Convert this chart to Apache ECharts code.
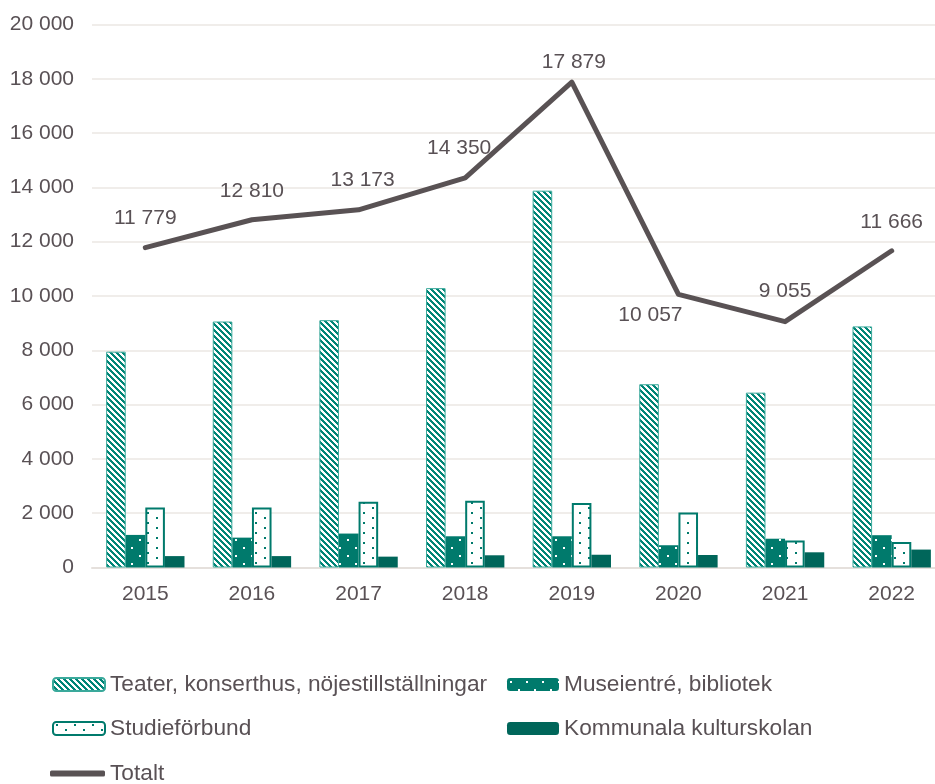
<!DOCTYPE html>
<html lang="sv">
<head>
    <meta charset="utf-8">
    <title>Kultur</title>
    <style>
        html, body { margin: 0; padding: 0; background: #fff; overflow: hidden; }
        #chart { width: 945px; height: 784px; }
    </style>
</head>
<body>
<div id="chart"></div>
<script src="https://cdn.jsdelivr.net/npm/echarts@6.0.0/dist/echarts.min.js"></script>
<script type="text/javascript">

// data
var years = ['2015', '2016', '2017', '2018', '2019', '2020', '2021', '2022'];
var teater = [7950, 9060, 9110, 10290, 13880, 6750, 6440, 8880];
var museum = [1200, 1100, 1250, 1150, 1150, 820, 1060, 1190];
var studie = [2210, 2210, 2420, 2460, 2380, 2030, 990, 940];
var kultur = [420, 420, 400, 450, 470, 460, 560, 660];
var totalt = [11779, 12810, 13173, 14350, 17879, 10057, 9055, 11666];
var yTicks = [0, 2000, 4000, 6000, 8000, 10000, 12000, 14000, 16000, 18000, 20000];

var names = ['Teater, konserthus, nöjestillställningar', 'Museientré, bibliotek',
    'Studieförbund', 'Kommunala kulturskolan', 'Totalt'];

var textColor = '#595155';
var teal = '#007a6c';
var tealDark = '#00665a';
var font = 'Liberation Sans, Arial, sans-serif';

// label offsets for the Totalt line
var labelOffsets = [[0, -13], [0, -13], [4, -14], [-6, -14], [2, -4], [-28, 37], [0, -14], [0, -13]];

function fmt(v) {
    return String(v).replace(/\B(?=(\d{3})+(?!\d))/g, ' ');
}

function tile(w, h, bg, fg, test) {
    var c = document.createElement('canvas');
    c.width = w; c.height = h;
    var ctx = c.getContext('2d');
    ctx.fillStyle = bg;
    ctx.fillRect(0, 0, w, h);
    ctx.fillStyle = fg;
    for (var y = 0; y < h; y++) {
        for (var x = 0; x < w; x++) {
            if (test(x, y)) ctx.fillRect(x, y, 1, 1);
        }
    }
    return { image: c, repeat: 'repeat' };
}

// diagonal stripes
var hatchFill = tile(6, 6, '#008577', '#ffffff', function (x, y) { return ((x - y + 12) % 6) < 3; });
// white dots on teal
var museumFill = tile(16, 16, teal, '#ffffff', function (x, y) {
    return (x >= 3 && x < 5 && y >= 3 && y < 5) || (x >= 11 && x < 13 && y >= 11 && y < 13);
});
// teal dots on white
var studieFill = tile(18, 10, '#ffffff', teal, function (x, y) {
    return (x >= 3 && x < 5 && y >= 2 && y < 4) || (x >= 12 && x < 14 && y >= 7 && y < 9);
});

var lineData = totalt.map(function (v, i) {
    return { value: v, label: { offset: labelOffsets[i] } };
});

function legendAt(name, left, top, opts) {
    var l = {
        data: [name],
        left: left,
        top: top,
        padding: 0,
        itemWidth: 52,
        itemHeight: 13,
        itemGap: 0,
        itemTextGap: 6,
        selectedMode: false,
        textStyle: { color: textColor, fontSize: 22.7, fontFamily: font }
    };
    for (var k in opts) l[k] = opts[k];
    return l;
}

var chart = echarts.init(document.getElementById('chart'), null, { renderer: 'canvas' });

var option = {
    animation: false,
    backgroundColor: '#ffffff',
    grid: { left: 92, top: 24.5, right: 0, bottom: 216.5, containLabel: false },
    legend: [
        legendAt(names[0], 52, 673),
        legendAt(names[1], 507, 673),
        legendAt(names[2], 52, 717),
        legendAt(names[3], 507, 717),
        legendAt(names[4], 50, 762, { itemWidth: 55, itemHeight: 6, itemTextGap: 3, icon: 'roundRect' })
    ],
    xAxis: {
        type: 'category',
        data: years,
        axisTick: { show: false },
        axisLine: { lineStyle: { color: '#e5e0dc', width: 2 } },
        axisLabel: { color: textColor, fontSize: 21, fontFamily: font, margin: 16 }
    },
    yAxis: {
        type: 'value',
        min: yTicks[0],
        max: yTicks[yTicks.length - 1],
        interval: yTicks[1] - yTicks[0],
        axisLine: { show: false },
        axisTick: { show: false },
        splitLine: { lineStyle: { color: '#ebe7e3', width: 1.5 } },
        axisLabel: { color: textColor, fontSize: 21, fontFamily: font, margin: 18, formatter: fmt }
    },
    series: [
        {
            name: names[0], type: 'bar', data: teater,
            barGap: '0%', barCategoryGap: '26.5%',
            itemStyle: { color: hatchFill, borderColor: '#3aa99b', borderWidth: 1 }
        },
        {
            name: names[1], type: 'bar', data: museum,
            itemStyle: { color: museumFill }
        },
        {
            name: names[2], type: 'bar', data: studie,
            itemStyle: { color: studieFill, borderColor: teal, borderWidth: 2 }
        },
        {
            name: names[3], type: 'bar', data: kultur,
            itemStyle: { color: tealDark }
        },
        {
            name: names[4], type: 'line', data: lineData,
            symbol: 'circle', symbolSize: 1, showSymbol: true, z: 5,
            lineStyle: { color: '#595254', width: 5, cap: 'round', join: 'round' },
            itemStyle: { color: '#595254' },
            label: {
                show: true, position: 'top', color: textColor, fontSize: 21, fontFamily: font,
                formatter: function (p) { return fmt(p.value); }
            }
        }
    ]
};

chart.setOption(option);

</script>
</body>
</html>
